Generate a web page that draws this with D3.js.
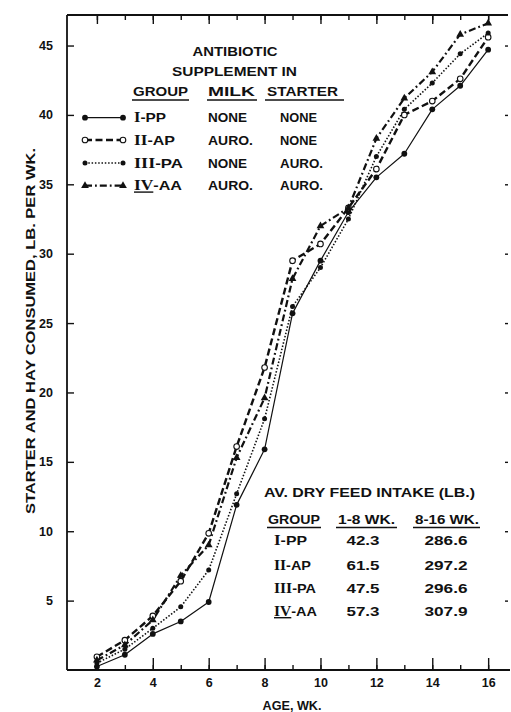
<!DOCTYPE html>
<html>
<head>
<meta charset="utf-8">
<script src="https://cdn.jsdelivr.net/npm/d3@7/dist/d3.min.js"></script>
<style>
  html, body { margin: 0; padding: 0; background: #fff; }
  svg { display: block; }
  text { font-family: "Liberation Sans", Arial, sans-serif; font-weight: bold; fill: #111; }
</style>
</head>
<body>
<svg id="chart" width="511" height="712"></svg>
<script>
// ---------------- DATA ----------------
const weeks = [2, 3, 4, 5, 6, 7, 8, 9, 10, 11, 12, 13, 14, 15, 16];
const groupI_PP   = [0.25, 1.1, 2.6, 3.5, 4.9, 11.9, 15.9, 25.7, 29.5, 33.0, 35.5, 37.2, 40.4, 42.1, 44.7];
const groupII_AP  = [0.95, 2.15, 3.9, 6.4, 9.85, 16.1, 21.8, 29.5, 30.7, 33.3, 36.1, 40.0, 41.0, 42.6, 45.6];
const groupIII_PA = [0.5, 1.5, 3.0, 4.55, 7.2, 12.7, 18.1, 26.2, 29.0, 32.5, 37.0, 40.4, 42.3, 44.4, 45.9];
const groupIV_AA  = [0.7, 1.8, 3.6, 6.8, 9.0, 15.3, 19.6, 28.2, 32.0, 33.3, 38.3, 41.2, 43.1, 45.8, 46.6];

const yTicks = [5, 10, 15, 20, 25, 30, 35, 40, 45];
const xMajorTicks = [2, 4, 6, 8, 10, 12, 14, 16];
const xAllTicks = weeks;

const groupNumerals = ["I", "II", "III", "IV"];
const groupCodes = ["-PP", "-AP", "-PA", "-AA"];
const milkSupplement = ["NONE", "AURO.", "NONE", "AURO."];
const starterSupplement = ["NONE", "NONE", "AURO.", "AURO."];
const intake1to8 = ["42.3", "61.5", "47.5", "57.3"];
const intake8to16 = ["286.6", "297.2", "296.6", "307.9"];

const yTitle = "STARTER AND HAY CONSUMED, LB. PER WK.";
const xTitle = "AGE, WK.";

// ---------------- LAYOUT ----------------
const svg = d3.select("#chart");
svg.append("rect").attr("width", 511).attr("height", 712).attr("fill", "#fff");

const L = 67, R = 508, T = 15, B = 670;
const x = d3.scaleLinear().domain([0.93, 16.71]).range([L, R]);
const y = d3.scaleLinear().domain([0, 47.2]).range([B, T]);

const ink = "#111";

// ---------------- AXES ----------------
function styleAxis(g, width) {
  g.selectAll("path.domain").attr("stroke", ink).attr("stroke-width", width);
  g.selectAll(".tick line").attr("stroke", ink).attr("stroke-width", 1.4);
  g.selectAll("text").attr("font-size", 12.5).attr("font-family", "Liberation Sans, Arial, sans-serif")
    .attr("font-weight", "bold").attr("fill", ink);
}

// bottom minor (all weeks)
const gBminor = svg.append("g").attr("transform", `translate(0,${B})`)
  .call(d3.axisBottom(x).tickValues(xAllTicks).tickSize(-5).tickSizeOuter(0).tickFormat(""));
styleAxis(gBminor, 1.8);
gBminor.select("path.domain").attr("d", `M${L},0H${R+2}`);
// bottom major with labels
const gB = svg.append("g").attr("transform", `translate(0,${B})`)
  .call(d3.axisBottom(x).tickValues(xMajorTicks).tickSize(-12).tickSizeOuter(0).tickPadding(8).tickFormat(d3.format("d")));
gB.select("path.domain").remove();
styleAxis(gB, 1.8);

// top ticks
const gTminor = svg.append("g").attr("transform", `translate(0,${T})`)
  .call(d3.axisTop(x).tickValues(xAllTicks).tickSize(-5).tickSizeOuter(0).tickFormat(""));
styleAxis(gTminor, 1.8);
gTminor.select("path.domain").attr("d", `M${L},0H${R}`);
const gTmajor = svg.append("g").attr("transform", `translate(0,${T})`)
  .call(d3.axisTop(x).tickValues(xMajorTicks).tickSize(-9).tickSizeOuter(0).tickFormat(""));
gTmajor.select("path.domain").remove();
styleAxis(gTmajor, 1.8);

// left axis
const gL = svg.append("g").attr("transform", `translate(${L},0)`)
  .call(d3.axisLeft(y).tickValues(yTicks).tickSize(-7).tickSizeOuter(0).tickPadding(14).tickFormat(d3.format("d")));
styleAxis(gL, 1.8);
gL.select("path.domain").attr("d", `M0,${T}V${B}`);

// right axis (small inward ticks only)
const gR = svg.append("g").attr("transform", `translate(${R},0)`)
  .call(d3.axisRight(y).tickValues(yTicks).tickSize(-3).tickSizeOuter(0).tickFormat(""));
gR.select("path.domain").remove();
styleAxis(gR, 1);

// axis titles
svg.append("text")
  .attr("transform", `translate(35,${331}) rotate(-90)`)
  .attr("text-anchor", "middle").attr("font-size", 12.5)
  .attr("textLength", 366).attr("lengthAdjust", "spacingAndGlyphs")
  .text(yTitle);
svg.append("text")
  .attr("x", 292).attr("y", 710).attr("text-anchor", "middle").attr("font-size", 12.5)
  .attr("textLength", 59).attr("lengthAdjust", "spacingAndGlyphs")
  .text(xTitle);

// ---------------- SERIES ----------------
const series = [
  { values: groupI_PP,   dash: null,          width: 1.2, marker: "dot",      r: 2.9 },
  { values: groupII_AP,  dash: "7,3.5",       width: 2.4, marker: "open",     r: 2.8 },
  { values: groupIII_PA, dash: "1.5,1.8",     width: 1.6, marker: "dot",      r: 2.5 },
  { values: groupIV_AA,  dash: "7,3,1.8,3",   width: 2.2, marker: "triangle", r: 3 }
];

const line = d3.line().x((d) => x(d[0])).y((d) => y(d[1]));

function drawMarker(g, s, cx, cy) {
  if (s.marker === "triangle") {
    g.append("path").attr("d", d3.symbol().type(d3.symbolTriangle).size(26)())
      .attr("transform", `translate(${cx},${cy})`).attr("fill", ink);
  } else if (s.marker === "open") {
    g.append("circle").attr("cx", cx).attr("cy", cy).attr("r", s.r)
      .attr("fill", "#fff").attr("stroke", ink).attr("stroke-width", 1.1);
  } else {
    g.append("circle").attr("cx", cx).attr("cy", cy).attr("r", s.r).attr("fill", ink);
  }
}

const gS = svg.append("g");
series.forEach((s) => {
  const pts = weeks.map((w, i) => [w, s.values[i]]);
  gS.append("path").attr("d", line(pts)).attr("fill", "none")
    .attr("stroke", ink).attr("stroke-width", s.width)
    .attr("stroke-dasharray", s.dash).attr("stroke-linejoin", "round");
});
series.forEach((s) => {
  const gm = gS.append("g");
  weeks.forEach((w, i) => drawMarker(gm, s, x(w), y(s.values[i])));
});

// ---------------- LEGEND ----------------
const gLeg = svg.append("g");
function txt(g, xx, yy, str, opts = {}) {
  const t = g.append("text").attr("x", xx).attr("y", yy).attr("font-size", opts.size || 13)
    .attr("text-anchor", opts.anchor || "start").text(str);
  if (opts.len) t.attr("textLength", opts.len).attr("lengthAdjust", "spacingAndGlyphs");
  return t;
}
function groupLabel(g, xx, yy, i, len) {
  const t = g.append("text").attr("x", xx).attr("y", yy).attr("font-size", 13);
  t.append("tspan").attr("font-family", "Liberation Serif, serif").attr("font-weight", "bold")
    .attr("font-size", 14)
    .attr("text-decoration", i === 3 ? "underline" : null).text(groupNumerals[i]);
  t.append("tspan").text(groupCodes[i]);
  if (len) t.attr("textLength", len).attr("lengthAdjust", "spacingAndGlyphs");
  return t;
}
txt(gLeg, 235, 56, "ANTIBIOTIC", { anchor: "middle", len: 85 });
txt(gLeg, 234.5, 75.5, "SUPPLEMENT  IN", { anchor: "middle", len: 125 });
txt(gLeg, 133, 96, "GROUP", { len: 55 });
txt(gLeg, 208, 96, "MILK", { len: 47 });
txt(gLeg, 267, 96, "STARTER", { len: 71 });
[[132, 189], [207, 257], [265, 344]].forEach(([a, b]) =>
  gLeg.append("line").attr("x1", a).attr("x2", b).attr("y1", 100).attr("y2", 100)
    .attr("stroke", ink).attr("stroke-width", 1.4));

const legRowY = [117.7, 140, 163, 185.7];
const legLabelLen = [32, 41, 49, 48];
const milkLen = [39, 45, 39, 45];
const starterLen = [37, 37, 43, 43];
series.forEach((s, i) => {
  const yy = legRowY[i];
  gLeg.append("line").attr("x1", 85).attr("x2", 123).attr("y1", yy).attr("y2", yy)
    .attr("stroke", ink).attr("stroke-width", s.width).attr("stroke-dasharray", s.dash);
  drawMarker(gLeg, s, 85, yy);
  drawMarker(gLeg, s, 123, yy);
  groupLabel(gLeg, 134, yy + 4.7, i, legLabelLen[i]);
  txt(gLeg, 208, yy + 4.7, milkSupplement[i], { len: milkLen[i] });
  txt(gLeg, 280, yy + 4.7, starterSupplement[i], { len: starterLen[i] });
});

// ---------------- INTAKE TABLE ----------------
const gTab = svg.append("g");
txt(gTab, 264, 497, "AV. DRY FEED INTAKE  (LB.)", { len: 211 });
txt(gTab, 268, 524, "GROUP", { len: 52 });
txt(gTab, 338, 524, "1-8 WK.", { len: 57 });
txt(gTab, 415, 524, "8-16 WK.", { len: 64 });
[[267, 321], [336, 397], [413, 480]].forEach(([a, b]) =>
  gTab.append("line").attr("x1", a).attr("x2", b).attr("y1", 527.5).attr("y2", 527.5)
    .attr("stroke", ink).attr("stroke-width", 1.4));
const tabRowY = [545, 569.5, 593, 616];
const tabLabelLen = [33, 37, 42, 43];
tabRowY.forEach((yy, i) => {
  groupLabel(gTab, 274, yy, i, tabLabelLen[i]);
  txt(gTab, 363, yy, intake1to8[i], { anchor: "middle", len: 33 });
  txt(gTab, 446, yy, intake8to16[i], { anchor: "middle", len: 43 });
});
</script>
</body>
</html>
